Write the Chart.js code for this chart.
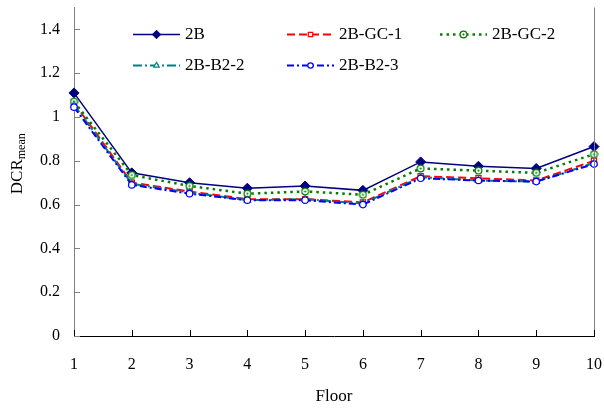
<!DOCTYPE html>
<html>
<head>
<meta charset="utf-8">
<script src="https://cdn.jsdelivr.net/npm/chart.js@4/dist/chart.umd.min.js"></script>
<style>
  html, body { margin: 0; padding: 0; background: #fff; }
  #wrap { width: 604px; height: 410px; }
</style>
</head>
<body>
<div id="wrap"><canvas id="grafico" width="604" height="410"></canvas></div>
<script>
// data
const floors = ['1', '2', '3', '4', '5', '6', '7', '8', '9', '10'];
const seriesNames = ['2B', '2B-GC-1', '2B-GC-2', '2B-B2-2', '2B-B2-3'];
const dcr2B   = [1.11, 0.745, 0.70, 0.675, 0.685, 0.665, 0.795, 0.775, 0.765, 0.865];
const dcrGC1  = [1.065, 0.70, 0.66, 0.625, 0.625, 0.61, 0.73, 0.72, 0.71, 0.80];
const dcrGC2  = [1.07, 0.735, 0.685, 0.65, 0.66, 0.645, 0.765, 0.755, 0.745, 0.83];
const dcrB22  = [1.055, 0.695, 0.655, 0.62, 0.625, 0.605, 0.725, 0.71, 0.705, 0.79];
const dcrB23  = [1.045, 0.69, 0.65, 0.62, 0.62, 0.60, 0.72, 0.71, 0.705, 0.785];
const yTicks  = [0, 0.2, 0.4, 0.6, 0.8, 1, 1.2, 1.4];

const serif = "'Liberation Serif', 'Times New Roman', serif";

// circle with a dot in the middle (marker of 2B-GC-2)
function dotCircle(color) {
  const c = document.createElement('canvas');
  c.width = 9; c.height = 9;
  const g = c.getContext('2d');
  g.fillStyle = '#fff';
  g.strokeStyle = color;
  g.lineWidth = 1.2;
  g.beginPath(); g.arc(4.5, 4.5, 3.4, 0, Math.PI * 2); g.fill(); g.stroke();
  g.fillStyle = color;
  g.beginPath(); g.arc(4.5, 4.5, 1.1, 0, Math.PI * 2); g.fill();
  return c;
}

// legend order
const datasets = [
  {
    label: seriesNames[0], data: dcr2B,
    borderColor: '#000080', backgroundColor: '#000080', borderWidth: 1.5,
    pointStyle: 'rectRot', pointRadius: 5, pointBorderWidth: 1
  },
  {
    label: seriesNames[1], data: dcrGC1,
    borderColor: '#ff0000', backgroundColor: '#ffffff', borderWidth: 2, borderDash: [8, 4],
    pointStyle: 'rect', pointRadius: 3.7, pointBorderWidth: 1.2
  },
  {
    label: seriesNames[2], data: dcrGC2,
    borderColor: '#008000', backgroundColor: '#ffffff', borderWidth: 2.5, borderDash: [2.5, 4],
    pointStyle: dotCircle('#008000'), pointRadius: 5
  },
  {
    label: seriesNames[3], data: dcrB22,
    borderColor: '#008080', backgroundColor: '#ffffff', borderWidth: 2, borderDash: [9, 3, 2, 3],
    pointStyle: 'triangle', pointRadius: 3.7, pointBorderWidth: 1.2
  },
  {
    label: seriesNames[4], data: dcrB23,
    borderColor: '#0000ff', backgroundColor: '#ffffff', borderWidth: 2, borderDash: [7, 3, 2, 3],
    pointStyle: 'circle', pointRadius: 3.2, pointBorderWidth: 1.2
  }
];

// inward tick marks + right border of the plot
const axisDecor = {
  id: 'axisDecor',
  afterDatasetsDraw(chart) {
    const { ctx, chartArea: a, scales } = chart;
    ctx.save();
    ctx.lineWidth = 1;
    ctx.strokeStyle = '#808080';
    ctx.beginPath();
    ctx.moveTo(a.right + 0.5, a.top); ctx.lineTo(a.right + 0.5, a.bottom);
    scales.y.ticks.forEach((t, i) => {
      const py = Math.round(scales.y.getPixelForTick(i)) + 0.5;
      ctx.moveTo(a.left, py); ctx.lineTo(a.left + 6, py);
    });
    ctx.stroke();
    ctx.strokeStyle = '#000';
    ctx.beginPath();
    scales.x.ticks.forEach((t, i) => {
      const px = Math.round(scales.x.getPixelForTick(i)) + 0.5;
      ctx.moveTo(px, a.bottom); ctx.lineTo(px, a.bottom - 6);
    });
    ctx.stroke();
    ctx.restore();
  }
};

// y title with subscript
const yTitle = {
  id: 'yTitle',
  afterDraw(chart) {
    const { ctx, chartArea: a } = chart;
    ctx.save();
    ctx.translate(18, (a.top + a.bottom) / 2 - 8);
    ctx.rotate(-Math.PI / 2);
    ctx.fillStyle = '#000';
    ctx.textBaseline = 'middle';
    ctx.font = '17px ' + serif;
    const w1 = ctx.measureText('DCR').width;
    ctx.font = '12px ' + serif;
    const w2 = ctx.measureText('mean').width;
    const x0 = -(w1 + w2) / 2;
    ctx.font = '17px ' + serif;
    ctx.textAlign = 'left';
    ctx.fillText('DCR', x0, 0);
    ctx.font = '12px ' + serif;
    ctx.fillText('mean', x0 + w1, 4);
    ctx.restore();
  }
};

// legend inside the plot, two rows of three columns
const legendBox = {
  id: 'legendBox',
  afterDraw(chart) {
    const { ctx } = chart;
    const spots = [
      [133, 34], [287, 34], [440, 34],
      [133, 65], [287, 65]
    ];
    ctx.save();
    datasets.forEach((ds, i) => {
      const [x, y] = spots[i];
      ctx.strokeStyle = ds.borderColor;
      ctx.lineWidth = ds.borderWidth;
      ctx.setLineDash(ds.borderDash || []);
      ctx.beginPath();
      ctx.moveTo(x, y + 0.5); ctx.lineTo(x + 47, y + 0.5);
      ctx.stroke();
      ctx.setLineDash([]);
      ctx.fillStyle = ds.backgroundColor;
      ctx.strokeStyle = ds.borderColor;
      ctx.lineWidth = ds.pointBorderWidth || 1;
      Chart.helpers.drawPoint(ctx, {
        pointStyle: ds.pointStyle, radius: ds.pointRadius * 0.85, rotation: 0,
        borderWidth: ds.pointBorderWidth || 1
      }, x + 23.5, y + 0.5);
      ctx.fillStyle = '#000';
      ctx.font = '17px ' + serif;
      ctx.textBaseline = 'middle';
      ctx.textAlign = 'left';
      ctx.fillText(ds.label, x + 52, y + 1);
    });
    ctx.restore();
  }
};

// fixed box sizes so the plot sits where it does in the figure
function noPad(scale) {
  scale.paddingTop = 0; scale.paddingBottom = 0;
  scale.paddingLeft = 0; scale.paddingRight = 0;
}

const ctx = document.getElementById('grafico');

new Chart(ctx, {
  type: 'line',
  data: { labels: floors, datasets: datasets.slice().reverse() },
  options: {
    responsive: false,
    animation: false,
    layout: { padding: { left: 40, top: 7, right: 10, bottom: 3 } },
    plugins: {
      legend: { display: false },
      tooltip: { enabled: false }
    },
    scales: {
      x: {
        offset: false,
        grid: { display: false, drawTicks: false },
        border: { color: '#000', width: 1 },
        ticks: { color: '#000', font: { family: serif, size: 16 }, padding: 19, maxRotation: 0 },
        title: { display: true, text: 'Floor', color: '#000', font: { family: serif, size: 17 }, padding: 0 },
        afterFit(scale) { scale.height = 71; noPad(scale); }
      },
      y: {
        min: 0, max: 1.5,
        grid: { display: false, drawTicks: false },
        border: { color: '#808080', width: 1 },
        afterBuildTicks(scale) { scale.ticks = yTicks.map(v => ({ value: v })); },
        afterFit(scale) { scale.width = 34; noPad(scale); },
        ticks: {
          color: '#000', font: { family: serif, size: 16 }, padding: 14,
          callback: v => String(Math.round(v * 10) / 10)
        }
      }
    }
  },
  plugins: [axisDecor, yTitle, legendBox]
});
</script>
</body>
</html>
